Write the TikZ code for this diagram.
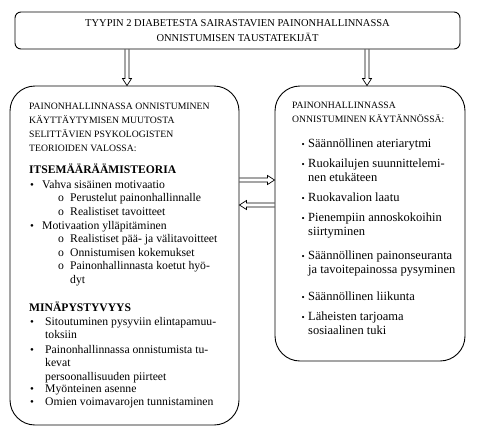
\documentclass[tikz,border=0pt]{standalone}
\usepackage{fontspec}
\setmainfont{Liberation Serif}

\tikzset{
  titlebox/.style={draw, line width=0.9pt, rounded corners=6pt, align=center,
    minimum width=445pt, minimum height=37pt, inner sep=0pt,
    font=\fontsize{10.5}{15}\selectfont},
  panel/.style={draw, line width=0.9pt, rounded corners=25pt, inner sep=0pt},
  hollow/.style={draw, line width=0.7pt, line join=miter},
  hdr/.style={anchor=base west, inner sep=0pt, font=\fontsize{9.7}{11}\selectfont},
  sect/.style={anchor=base west, inner sep=0pt, font=\fontsize{11.6}{13}\selectfont\bfseries},
  txt/.style={anchor=base west, inner sep=0pt, font=\fontsize{11.7}{13}\selectfont},
  rtxt/.style={anchor=base west, inner sep=0pt, font=\fontsize{12.5}{14}\selectfont},
  dot/.style={anchor=base west, inner sep=0pt, font=\fontsize{11}{13}\selectfont}
}

\begin{document}
\begin{tikzpicture}[x=1pt, y=-1pt]
\useasboundingbox (0,0) rectangle (478,440);

% The three boxes
\node[titlebox] (title) at (237.5,30.5)
  {TYYPIN 2 DIABETESTA SAIRASTAVIEN PAINONHALLINNASSA\\ONNISTUMISEN TAUSTATEKIJÄT};
\node[panel, minimum width=229pt, minimum height=339pt] (left) at (124.5,255.5) {};
\node[panel, minimum width=190pt, minimum height=275pt] (right) at (370,223.5) {};

% End points of the hollow arrows
\coordinate (la) at (127,0);
\coordinate (ra) at (367,0);
\coordinate (fw) at (0,180);
\coordinate (bw) at (0,205);
\coordinate (l1) at (la |- title.south);
\coordinate (l2) at (la |- left.north);
\coordinate (r1) at (ra |- title.south);
\coordinate (r2) at (ra |- right.north);
\coordinate (f1) at (left.east |- fw);
\coordinate (f2) at (right.west |- fw);
\coordinate (b1) at (right.west |- bw);
\coordinate (b2) at (left.east |- bw);

% Hollow arrows down from the title
\draw[hollow] ([xshift=-2pt]l1) -- ([xshift=-2pt,yshift=7pt]l2) -- ([xshift=-4.5pt,yshift=7pt]l2)
  -- (l2) -- ([xshift=4.5pt,yshift=7pt]l2) -- ([xshift=2pt,yshift=7pt]l2) -- ([xshift=2pt]l1);
\draw[hollow] ([xshift=-2pt]r1) -- ([xshift=-2pt,yshift=7pt]r2) -- ([xshift=-4.5pt,yshift=7pt]r2)
  -- (r2) -- ([xshift=4.5pt,yshift=7pt]r2) -- ([xshift=2pt,yshift=7pt]r2) -- ([xshift=2pt]r1);

% Hollow arrows between the two panels
\draw[hollow] ([yshift=2pt]f1) -- ([xshift=-7pt,yshift=2pt]f2) -- ([xshift=-7pt,yshift=4.5pt]f2)
  -- (f2) -- ([xshift=-7pt,yshift=-4.5pt]f2) -- ([xshift=-7pt,yshift=-2pt]f2) -- ([yshift=-2pt]f1);
\draw[hollow] ([yshift=2pt]b1) -- ([xshift=7pt,yshift=2pt]b2) -- ([xshift=7pt,yshift=4.5pt]b2)
  -- (b2) -- ([xshift=7pt,yshift=-4.5pt]b2) -- ([xshift=7pt,yshift=-2pt]b2) -- ([yshift=-2pt]b1);

% Left box: heading
\foreach \yy/\t [count=\i] in {109/PAINONHALLINNASSA ONNISTUMINEN,
    123/KÄYTTÄYTYMISEN MUUTOSTA, 137/SELITTÄVIEN PSYKOLOGISTEN,
    151/TEORIOIDEN VALOSSA:}
  \node[hdr] (lh\i) at (29,\yy) {\t};

% Self-determination theory
\node[sect] (sdt) at (29,173) {ITSEMÄÄRÄÄMISTEORIA};
\foreach \yy/\t [count=\i] in {188/Vahva sisäinen motivaatio,
    229/Motivaation ylläpitäminen}
{
  \node[dot] (sb\i) at (30,\yy) {\textbullet};
  \node[txt] (st\i) at (42,\yy) {\t};
}
\foreach \yy/\t [count=\i] in {201/Perustelut painonhallinnalle,
    215/Realistiset tavoitteet, 242/Realistiset pää- ja välitavoitteet,
    256/Onnistumisen kokemukset, 269/Painonhallinnasta koetut hyö-}
{
  \node[txt] (so\i) at (58,\yy) {o};
  \node[txt] (ss\i) at (70,\yy) {\t};
}
\node[txt] (ss6) at (70,283) {dyt};

% Self-efficacy
\node[sect] (se) at (29,311) {MINÄPYSTYVYYS};
\foreach \yy/\t [count=\i] in {325/Sitoutuminen pysyviin elintapamuu-,
    338/toksiin, 353/Painonhallinnassa onnistumista tu-, 366/kevat,
    380/persoonallisuuden piirteet, 392/Myönteinen asenne,
    405/Omien voimavarojen tunnistaminen}
  \node[txt] (mt\i) at (45,\yy) {\t};
\foreach \yy [count=\i] in {325,353,392,405}
  \node[dot] (mb\i) at (30,\yy) {\textbullet};

% Right box: heading
\node[hdr] (rh1) at (292,108) {PAINONHALLINNASSA};
\node[hdr] (rh2) at (292,122) {ONNISTUMINEN KÄYTÄNNÖSSÄ:};

% Right box: practices
\foreach \yy/\t [count=\i] in {147/Säännöllinen ateriarytmi,
    167/Ruokailujen suunnittelemi-, 181/nen etukäteen, 201/Ruokavalion laatu,
    221/Pienempiin annoskokoihin, 235/siirtyminen,
    259/Säännöllinen painonseuranta, 273/ja tavoitepainossa pysyminen,
    300/Säännöllinen liikunta, 320/Läheisten tarjoama, 334/sosiaalinen tuki}
  \node[rtxt] (rt\i) at (308,\yy) {\t};
\foreach \yy [count=\i] in {147,167,201,221,259,300,320}
  \node[dot, font=\fontsize{9}{11}\selectfont] (rb\i) at (301.5,\yy) {\textbullet};

\end{tikzpicture}
\end{document}
